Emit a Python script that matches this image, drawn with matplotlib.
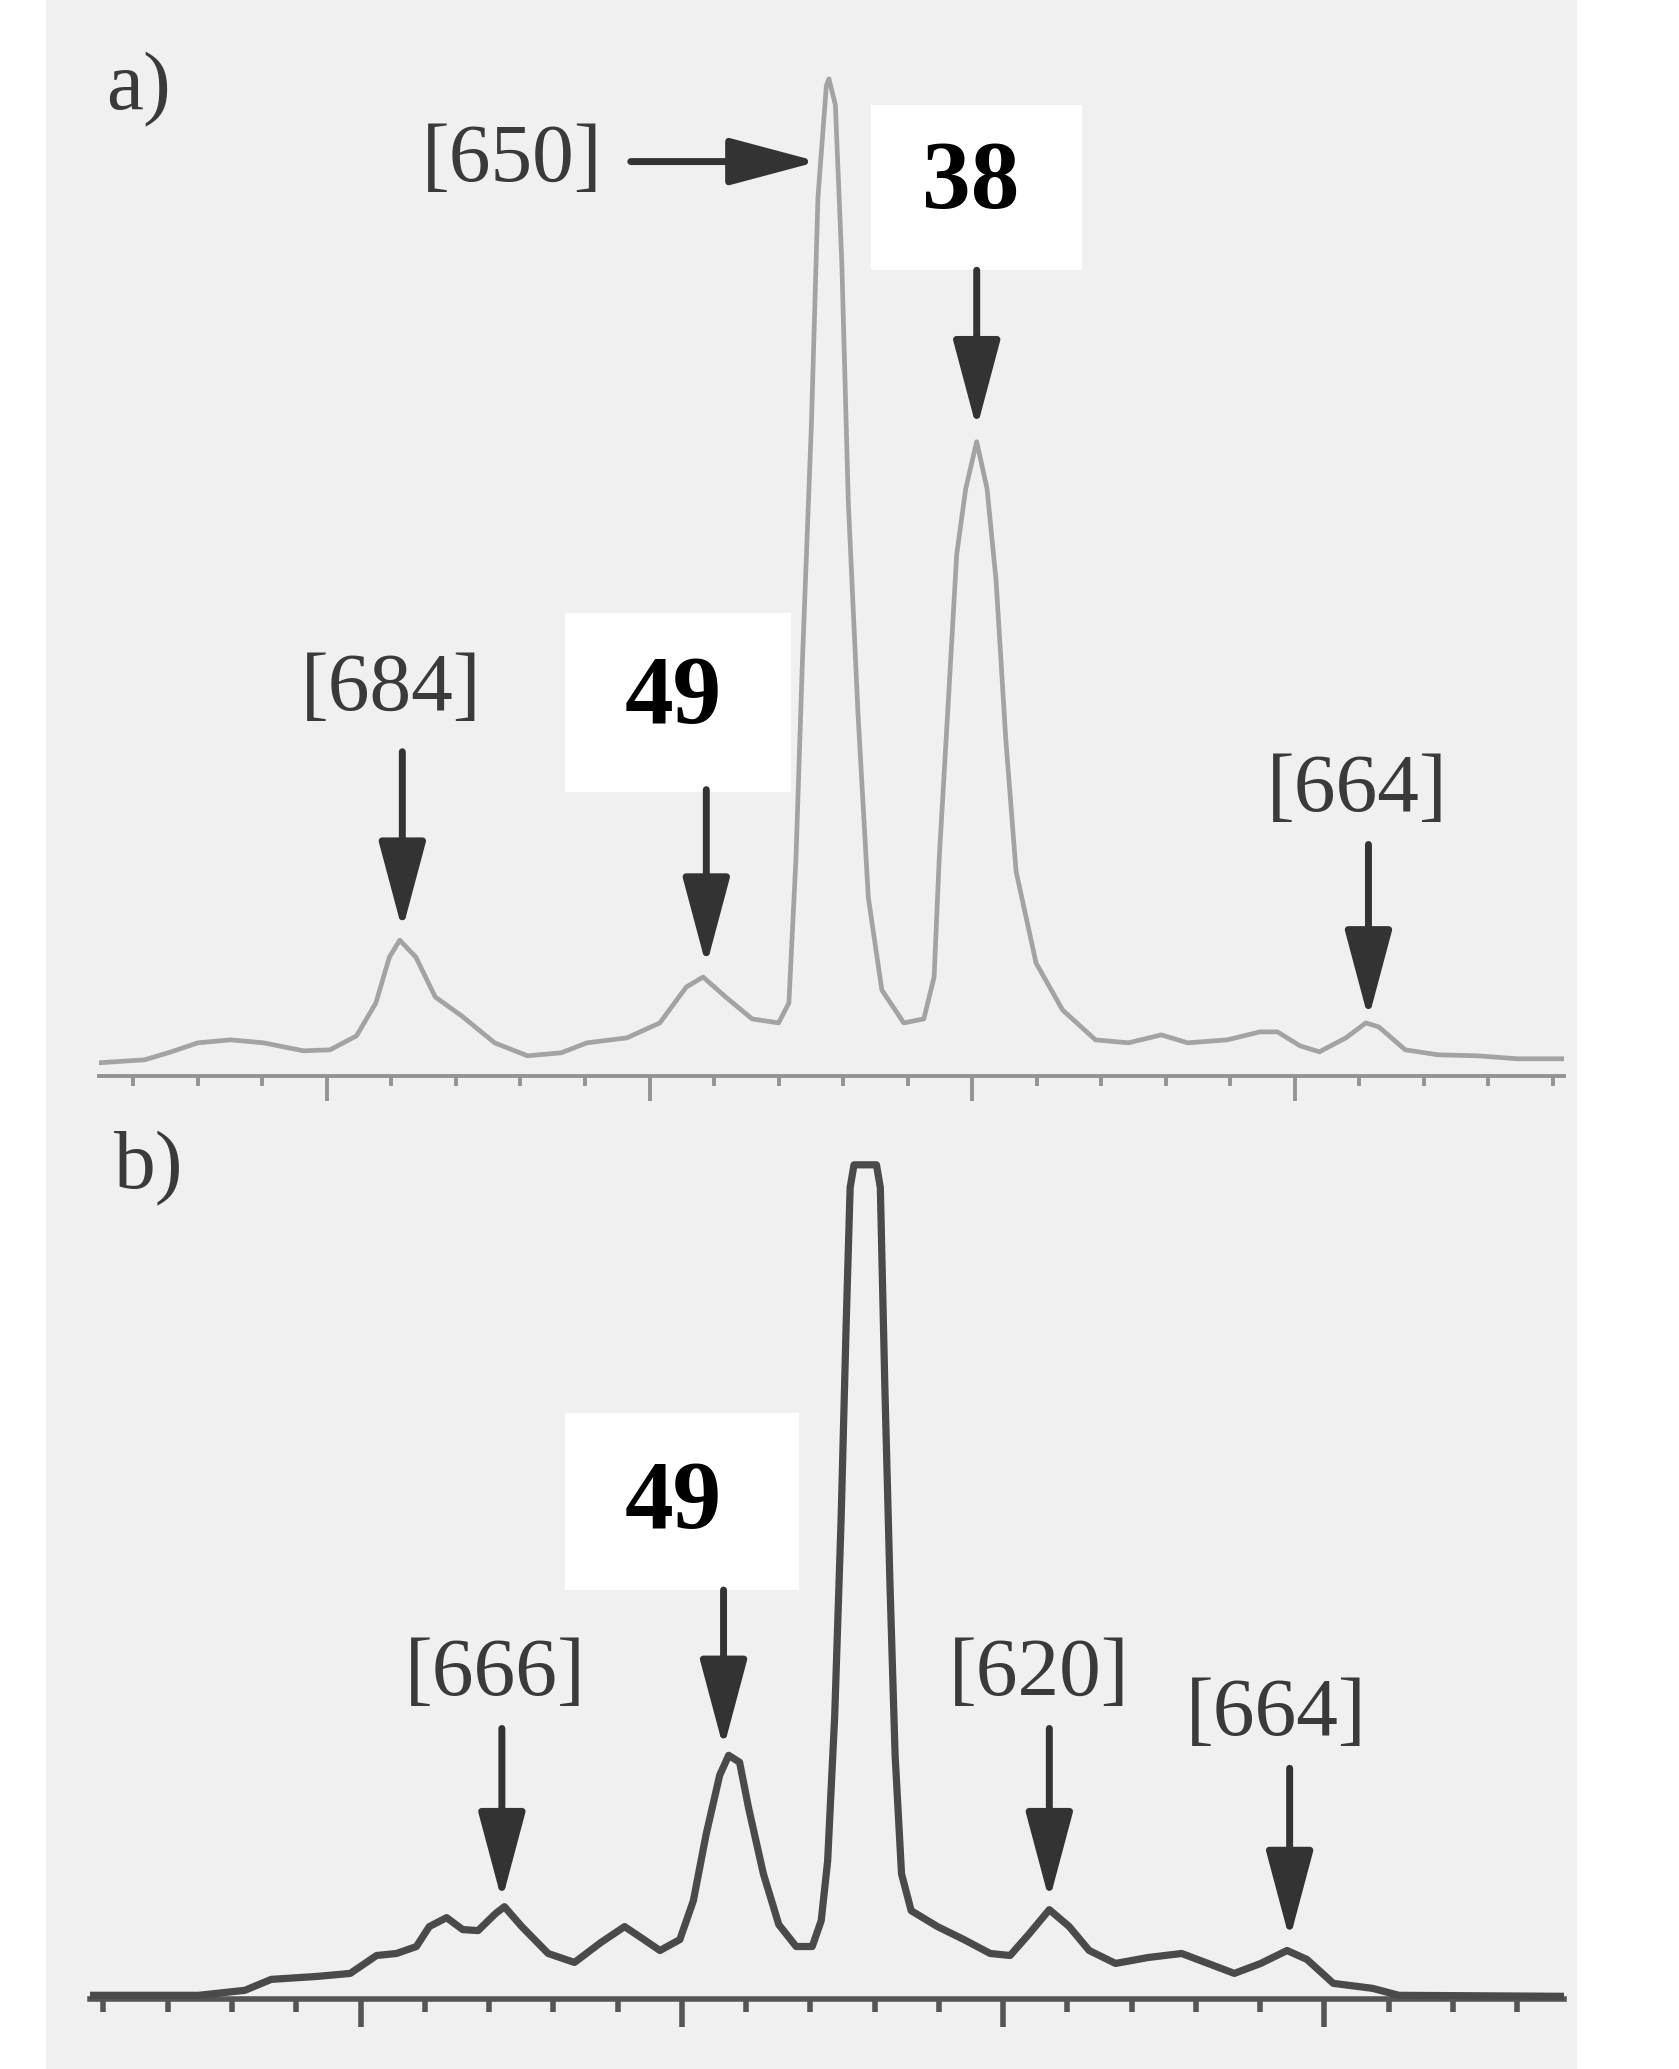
import numpy as np
import matplotlib.pyplot as plt
from matplotlib.patches import Rectangle

# spectrum a), x in tick units, intensity in % of the [650] peak
a_x = [-0.53, 0.18, 0.59, 1.0, 1.51, 2.02, 2.64, 3.05, 3.46, 3.76, 3.97, 4.13, 4.38, 4.68,
       5.09, 5.60, 6.11, 6.63, 7.03, 7.65, 8.16, 8.57, 8.83, 9.18, 9.59, 10.0, 10.16, 10.27,
       10.37, 10.51, 10.61, 10.74, 10.78, 10.88, 10.98, 11.08, 11.23, 11.39, 11.60, 11.94,
       12.25, 12.41, 12.49, 12.62, 12.76, 12.90, 13.07, 13.23, 13.37, 13.52, 13.68, 13.99,
       14.40, 14.91, 15.42, 15.93, 16.34, 16.95, 17.46, 17.73, 18.08, 18.38, 18.79, 19.10,
       19.30, 19.71, 20.22, 20.83, 21.45, 22.17]
a_y = [1.3, 1.6, 2.4, 3.3, 3.6, 3.3, 2.5, 2.6, 4.0, 7.3, 11.9, 13.6, 11.9, 7.9,
       6.0, 3.3, 2.0, 2.3, 3.3, 3.8, 5.3, 8.9, 9.9, 7.9, 5.7, 5.3, 7.3, 21.9,
       41.7, 65.6, 88.1, 99.3, 100.0, 97.4, 81.5, 57.6, 36.4, 17.9, 8.6, 5.3,
       5.7, 9.9, 21.9, 36.4, 52.3, 58.9, 63.6, 58.9, 49.7, 33.8, 20.5, 11.3,
       6.6, 3.6, 3.3, 4.1, 3.3, 3.6, 4.4, 4.4, 3.0, 2.4, 3.8, 5.3,
       4.9, 2.6, 2.1, 2.0, 1.7, 1.7]

# spectrum b), main peak is clipped at the top
b_x = [-0.21, 1.48, 2.20, 2.61, 3.33, 3.84, 4.25, 4.56, 4.87, 5.07, 5.34, 5.59, 5.83, 6.10,
       6.24, 6.51, 6.92, 7.33, 7.74, 8.11, 8.41, 8.66, 8.97, 9.18, 9.38, 9.59, 9.73, 9.90,
       10.04, 10.27, 10.51, 10.78, 11.03, 11.17, 11.27, 11.38, 11.48, 11.56, 11.62, 11.68,
       12.03, 12.09, 12.16, 12.24, 12.32, 12.42, 12.57, 12.98, 13.39, 13.80, 14.11,
       14.41, 14.72, 15.03, 15.34, 15.75, 16.26, 16.78, 17.19, 17.60, 18.01, 18.42, 18.73,
       19.14, 19.75, 20.16, 22.73]
b_y = [0.4, 0.4, 0.9, 2.0, 2.3, 2.6, 4.4, 4.6, 5.3, 7.3, 8.2, 7.0, 6.9, 8.6,
       9.3, 7.3, 4.6, 3.7, 5.7, 7.3, 6.0, 4.9, 6.0, 9.9, 16.6, 22.5, 24.5, 23.8,
       19.2, 12.6, 7.5, 5.3, 5.3, 7.9, 13.9, 28.5, 48.3, 68.2, 81.5, 83.8,
       83.8, 81.5, 61.6, 41.7, 24.5, 12.6, 8.9, 7.3, 6.0, 4.6, 4.4,
       6.6, 9.0, 7.3, 4.9, 3.6, 4.2, 4.6, 3.6, 2.6, 3.6, 4.9, 4.0,
       1.6, 1.1, 0.4, 0.3]

a_ticks = list(range(23))
b_ticks = list(range(23))
a_long = [3, 8, 13, 18]
b_long = [4, 9, 14, 19]

# labels: text, peak x, arrow tail y, arrow tip y, text x, text y
a_labels = ["[684]", "49", "38", "[664]"]
a_peak_x = [4.17, 8.88, 13.07, 19.14]
a_tail_y = [32.5, 28.7, 80.8, 23.2]
a_tip_y = [14.6, 11.0, 64.9, 5.7]
a_text_x = [4.0, 8.36, 12.97, 18.96]
a_text_y = [38.7, 37.7, 89.4, 28.5]

b_labels = ["[666]", "49", "[620]", "[664]"]
b_peak_x = [6.20, 9.65, 14.72, 18.46]
b_tail_y = [27.2, 41.1, 27.2, 23.2]
b_tip_y = [9.9, 25.2, 9.9, 6.0]
b_text_x = [6.10, 8.87, 14.56, 18.25]
b_text_y = [32.5, 49.7, 32.5, 28.5]

# white boxes behind the bold compound numbers (x0, x1, y0, y1 in data units)
a_boxes = [(6.69, 10.20, 28.5, 46.4), (11.43, 14.70, 80.8, 97.4)]
b_boxes = [(7.19, 10.82, 41.1, 58.9)]

W, H = 1679, 2069
fig = plt.figure(figsize=(W / 100, H / 100), dpi=100)
fig.patch.set_facecolor("white")
fig.add_artist(Rectangle((46 / W, 0), (1577 - 46) / W, 1, transform=fig.transFigure,
                         facecolor="#f0f0f0", edgecolor="none", zorder=0))

ax_a = fig.add_axes([99 / W, 1 - 1122 / H, (1564 - 99) / W, (1122 - 26) / H])
ax_b = fig.add_axes([90 / W, 0, (1564 - 90) / W, (2069 - 1122) / H])

arrow_c = "#333333"
label_font = ["Liberation Serif", "DejaVu Serif"]
arrow_style = dict(arrowstyle="-|>,head_length=1.05,head_width=0.28", mutation_scale=52,
                   lw=5.0, color=arrow_c, shrinkA=0, shrinkB=0)


def setup(ax, xlim, ylim, ticks, long_ticks, col, lw, short_len, long_len):
  ax.set_xlim(*xlim)
  ax.set_ylim(*ylim)
  ax.patch.set_alpha(0)
  for s in ["top", "left", "right"]:
    ax.spines[s].set_visible(False)
  ax.spines["bottom"].set_position(("data", 0))
  ax.spines["bottom"].set_color(col)
  ax.spines["bottom"].set_linewidth(lw)
  ax.set_yticks([])
  ax.set_xticks(long_ticks)
  ax.set_xticks([t for t in ticks if t not in long_ticks], minor=True)
  ax.tick_params(axis="x", which="major", direction="out", length=long_len, width=lw,
                 color=col, labelbottom=False)
  ax.tick_params(axis="x", which="minor", direction="out", length=short_len, width=lw,
                 color=col, labelbottom=False)


def label(ax, txt, px, tail, tip, tx, ty):
  if txt.startswith("["):
    ax.text(tx, ty, txt, ha="center", va="center", fontsize=60, family=label_font,
            color="#3a3a3a", zorder=5)
  else:
    ax.text(tx, ty, txt, ha="center", va="center", fontsize=70, fontweight="bold",
            family=label_font, color="black", zorder=5)
  ax.annotate("", xy=(px, tip), xytext=(px, tail), arrowprops=arrow_style, zorder=6)


def boxes(ax, bx):
  for x0, x1, y0, y1 in bx:
    ax.add_patch(Rectangle((x0, y0), x1 - x0, y1 - y0, facecolor="white",
                           edgecolor="none", zorder=4))


# panel a
setup(ax_a, (-0.53, 22.17), (-4.64, 105.3), a_ticks, a_long, "#939393", 2.8, 7, 18)
ax_a.plot(a_x, a_y, color="#a3a3a3", lw=3.4, zorder=3)
boxes(ax_a, a_boxes)
for i in range(len(a_labels)):
  label(ax_a, a_labels[i], a_peak_x[i], a_tail_y[i], a_tip_y[i], a_text_x[i], a_text_y[i])
ax_a.text(5.87, 91.7, "[650]", ha="center", va="center", fontsize=60, family=label_font,
          color="#3a3a3a", zorder=5)
ax_a.annotate("", xy=(10.61, 91.7), xytext=(7.71, 91.7), arrowprops=arrow_style, zorder=6)
ax_a.text(0.08, 98.9, "a)", ha="center", va="center", fontsize=60, family=label_font,
          color="#3a3a3a")

# panel b
setup(ax_b, (-0.21, 22.73), (-7.0, 88.1), b_ticks, b_long, "#555555", 4.0, 9, 20)
ax_b.plot(b_x, b_y, color="#4a4a4a", lw=5.2, zorder=3)
boxes(ax_b, b_boxes)
for i in range(len(b_labels)):
  label(ax_b, b_labels[i], b_peak_x[i], b_tail_y[i], b_tip_y[i], b_text_x[i], b_text_y[i])
ax_b.text(0.7, 83.4, "b)", ha="center", va="center", fontsize=60, family=label_font,
          color="#3a3a3a")

fig.savefig("out.png", dpi=100, facecolor=fig.get_facecolor())
